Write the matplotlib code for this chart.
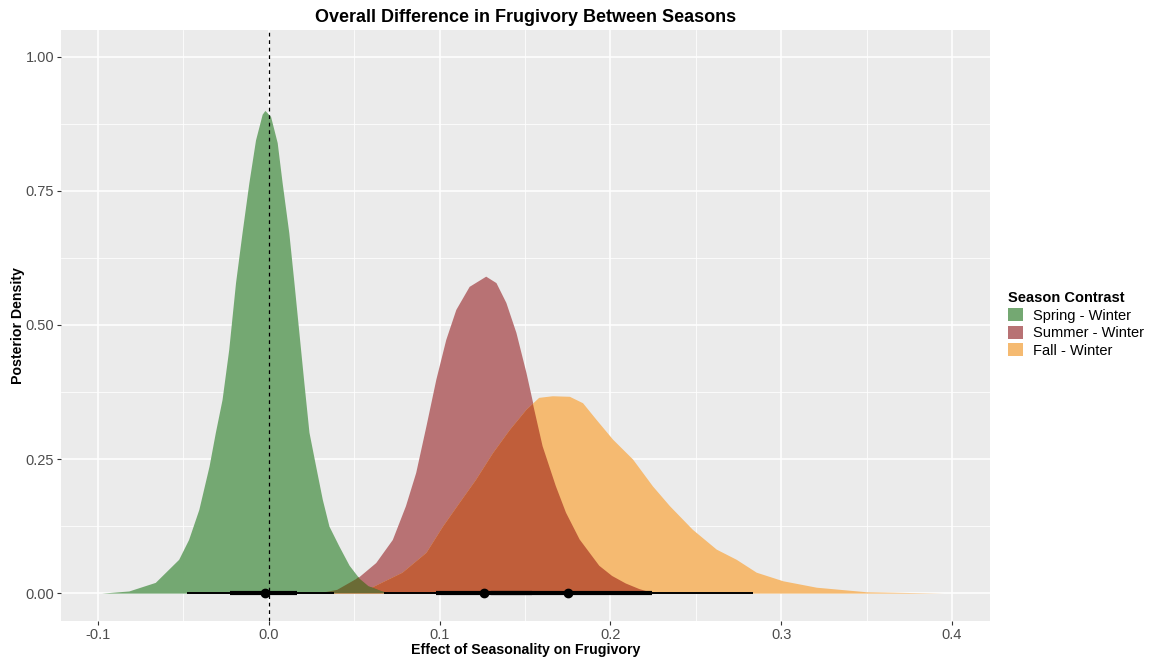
import matplotlib
matplotlib.use("Agg")
import matplotlib.pyplot as plt
from matplotlib.patches import Patch, Polygon
import numpy as np

plt.rcParams['font.family'] = ['Liberation Sans', 'DejaVu Sans']

# ---- data ----
series_names = ["Spring - Winter", "Summer - Winter", "Fall - Winter"]

spring_x = [-0.098, -0.090, -0.082, -0.0665, -0.0528, -0.047, -0.041, -0.035, -0.0313, -0.0274,
            -0.0235, -0.0195, -0.0157, -0.0117, -0.0078, -0.0039, -0.0023, 0.001, 0.0049, 0.0078,
            0.0117, 0.0147, 0.0176, 0.0205, 0.0235, 0.0274, 0.0313, 0.0352, 0.041, 0.047,
            0.0528, 0.058, 0.066, 0.072]
spring_y = [0.0, 0.002, 0.004, 0.020, 0.063, 0.10, 0.156, 0.237, 0.30, 0.361,
            0.454, 0.579, 0.672, 0.765, 0.845, 0.893, 0.900, 0.889, 0.840, 0.765,
            0.672, 0.579, 0.486, 0.393, 0.30, 0.237, 0.175, 0.125, 0.088, 0.052,
            0.028, 0.014, 0.004, 0.0]

summer_x = [0.030, 0.040, 0.051, 0.0626, 0.0723, 0.080, 0.086, 0.092, 0.0978, 0.1036,
            0.1095, 0.1173, 0.127, 0.133, 0.1388, 0.1447, 0.1506, 0.1545, 0.1603, 0.168,
            0.174, 0.182, 0.1935, 0.201, 0.209, 0.217, 0.225]
summer_y = [0.0, 0.006, 0.026, 0.057, 0.10, 0.163, 0.225, 0.312, 0.399, 0.473,
            0.529, 0.572, 0.591, 0.579, 0.542, 0.486, 0.411, 0.355, 0.274, 0.20,
            0.15, 0.10, 0.051, 0.032, 0.018, 0.0075, 0.0]

fall_x = [0.030, 0.045, 0.060, 0.078, 0.092, 0.1017, 0.1114, 0.121, 0.131, 0.1408,
          0.1506, 0.158, 0.166, 0.176, 0.1837, 0.1916, 0.2013, 0.213, 0.2246, 0.2346,
          0.248, 0.262, 0.2737, 0.2854, 0.301, 0.3206, 0.35, 0.395]
fall_y = [0.0, 0.004, 0.011, 0.039, 0.076, 0.125, 0.169, 0.212, 0.262, 0.305,
          0.343, 0.365, 0.368, 0.367, 0.355, 0.324, 0.287, 0.25, 0.20, 0.163,
          0.119, 0.082, 0.063, 0.039, 0.023, 0.011, 0.0025, 0.0]

point_est = [-0.0023, 0.126, 0.1754]
ci66_low = [-0.0225, 0.0978, 0.130]
ci66_high = [0.0166, 0.154, 0.2246]
ci95_low = [-0.048, 0.0674, 0.097]
ci95_high = [0.038, 0.186, 0.2833]

# ---- styling ----
fill_colors = ["#74A872", "#B87274", "#F5BA71"]
overlap_green = "#6B6B35"
overlap_red_orange = "#C05E3A"
bg = "#EBEBEB"

fig = plt.figure(figsize=(11.51, 6.61), dpi=100)
ax = fig.add_axes([61/1151, 1-621/661, (990-61)/1151, (621-30)/661])
ax.set_facecolor(bg)
ax.set_xlim(-0.1217, 0.4223)
ax.set_ylim(-0.052, 1.05)

xticks = [-0.1, 0.0, 0.1, 0.2, 0.3, 0.4]
xticklabels = ["-0.1", "0.0", "0.1", "0.2", "0.3", "0.4"]
yticks = [0.0, 0.25, 0.5, 0.75, 1.0]
yticklabels = ["0.00", "0.25", "0.50", "0.75", "1.00"]
ax.set_xticks(xticks)
ax.set_xticklabels(xticklabels)
ax.set_yticks(yticks)
ax.set_yticklabels(yticklabels)
ax.set_xticks([-0.05, 0.05, 0.15, 0.25, 0.35], minor=True)
ax.set_yticks([0.125, 0.375, 0.625, 0.875], minor=True)
ax.grid(which='major', color='white', linewidth=1.1, zorder=0)
ax.grid(which='minor', color='white', linewidth=0.55, zorder=0)
ax.set_axisbelow(True)
ax.tick_params(which='major', length=3, color='#333333', labelcolor='#4D4D4D',
               labelsize=10.5, width=0.8, pad=2)
ax.tick_params(which='minor', length=0)
for s in ax.spines.values():
    s.set_visible(False)

xs = [spring_x, summer_x, fall_x]
ys = [spring_y, summer_y, fall_y]
for i in range(3):
    ax.fill_between(xs[i], ys[i], 0, color=fill_colors[i], linewidth=0, zorder=2 + i * 0.1)

def clipped_fill(xv, yv, color, clip_x, clip_y, z):
    clip = Polygon(np.column_stack([clip_x + clip_x[::-1], clip_y + [0.0] * len(clip_y)]),
                   closed=True, transform=ax.transData, facecolor='none', edgecolor='none')
    f = ax.fill_between(xv, yv, 0, color=color, linewidth=0, zorder=z)
    f.set_clip_path(clip)

# overlaps
clipped_fill(fall_x, fall_y, overlap_red_orange, summer_x, summer_y, 2.5)
clipped_fill(spring_x, spring_y, overlap_green, summer_x, summer_y, 2.6)
clipped_fill(spring_x, spring_y, overlap_green, fall_x, fall_y, 2.6)

ax.axvline(0, color='black', linestyle=(0, (3, 3)), linewidth=0.9, zorder=3)

for i in range(3):
    ax.plot([ci95_low[i], ci95_high[i]], [0, 0], color='black', linewidth=1.4,
            solid_capstyle='butt', zorder=4)
for i in range(3):
    ax.plot([ci66_low[i], ci66_high[i]], [0, 0], color='black', linewidth=3.0,
            solid_capstyle='butt', zorder=5)
for i in range(3):
    ax.plot([point_est[i]], [0], 'o', color='black', markersize=6, zorder=6)

ax.set_title("Overall Difference in Frugivory Between Seasons", fontsize=13,
             fontweight='bold', pad=6)
ax.set_xlabel("Effect of Seasonality on Frugivory", fontsize=10.2, fontweight='bold', labelpad=1)
ax.set_ylabel("Posterior Density", fontsize=10.2, fontweight='bold', va='center')
ax.yaxis.set_label_coords((18 - 61) / 929, 0.5)

handles = [Patch(facecolor=c, edgecolor='none') for c in fill_colors]
leg = fig.legend(handles, series_names, title="Season Contrast", loc='upper left',
                 bbox_to_anchor=(998/1151, 1-281/661), frameon=False, fontsize=10.5,
                 title_fontproperties={'weight': 'bold', 'size': 10.5},
                 handlelength=1.0, handleheight=1.0, labelspacing=0.2, handletextpad=0.7,
                 borderpad=0.2)
leg._legend_box.align = "left"

fig.savefig("out.png", dpi=100)
